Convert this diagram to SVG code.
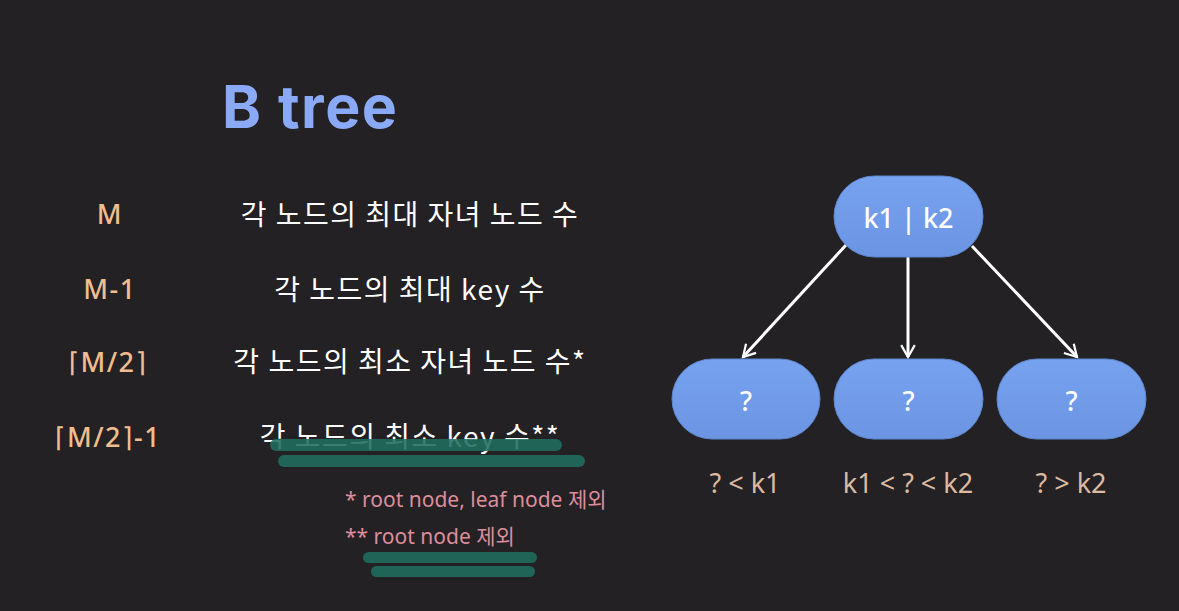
<svg xmlns="http://www.w3.org/2000/svg" width="1179" height="611" viewBox="0 0 1179 611">
  <defs>
    <linearGradient id="nodeFill" x1="0" y1="0" x2="0" y2="1">
      <stop offset="0" stop-color="#77a2ef"/>
      <stop offset="1" stop-color="#6b95e2"/>
    </linearGradient>
    <marker id="arrow" viewBox="0 0 20 20" refX="17" refY="10" markerWidth="17" markerHeight="17" markerUnits="userSpaceOnUse" orient="auto">
      <path d="M3,2 L17,10 L3,18" fill="none" stroke="#ffffff" stroke-width="2.6" stroke-linejoin="miter"/>
    </marker>
    <style>
      .title { font-family: "Inter", "Liberation Sans", sans-serif; font-weight: 700; font-size: 59px; letter-spacing: 1.5px; fill: #8aa9f6; }
      .sym { font-family: "Noto Sans", "DejaVu Sans", sans-serif; font-size: 27px; font-weight: 500; letter-spacing: 1.5px; fill: #f0bd8e; text-anchor: middle; }
      .desc { font-family: "Noto Sans CJK KR", "Noto Sans", sans-serif; font-size: 28px; font-weight: 400; letter-spacing: 1.5px; fill: #ffffff; text-anchor: middle; }
      .note { font-family: "Noto Sans", "Noto Sans CJK KR", sans-serif; font-size: 21px; fill: #dd8d9c; }
      .mark { fill: #1f6e5e; }
      .node { fill: url(#nodeFill); stroke: #5f86cc; stroke-width: 1; }
      .nlabel { font-family: "Noto Sans", "DejaVu Sans", sans-serif; font-size: 27px; font-weight: 500; fill: #ffffff; text-anchor: middle; }
      .range { font-family: "Noto Sans", "DejaVu Sans", sans-serif; font-size: 27px; fill: #dcbba0; text-anchor: middle; }
      .edge { stroke: #ffffff; stroke-width: 3; fill: none; }
    </style>
  </defs>

  <rect x="0" y="0" width="1179" height="611" fill="#232124"/>

  <text class="title" x="222" y="128">B tree</text>

  <!-- symbols -->
  <g id="symbols">
    <text class="sym" x="110" y="224">M</text>
    <text class="sym" x="110" y="299">M-1</text>
    <text class="sym" x="108" y="372">⌈M/2⌉</text>
    <text class="sym" x="108" y="447">⌈M/2⌉-1</text>
  </g>

  <!-- descriptions -->
  <g id="descriptions">
    <text class="desc" x="410" y="225">각 노드의 최대 자녀 노드 수</text>
    <text class="desc" x="410" y="300">각 노드의 최대 key 수</text>
    <text class="desc" x="410" y="372">각 노드의 최소 자녀 노드 수*</text>
    <text class="desc" x="410" y="447">각 노드의 최소 key 수**</text>
  </g>

  <!-- highlight strokes -->
  <g id="highlights" opacity="0.88">
    <rect class="mark" x="270" y="439" width="292" height="12" rx="6"/>
    <rect class="mark" x="278" y="455" width="307" height="12" rx="6"/>
    <rect class="mark" x="363" y="552" width="174" height="11" rx="5.5"/>
    <rect class="mark" x="371" y="566" width="164" height="11" rx="5.5"/>
  </g>

  <!-- footnotes -->
  <g id="notes">
    <text class="note" x="345" y="507">* root node, leaf node 제외</text>
    <text class="note" x="345" y="544">** root node 제외</text>
  </g>

  <!-- connectors -->
  <g id="connectors">
    <line class="edge" x1="846" y1="245" x2="743" y2="357" marker-end="url(#arrow)"/>
    <line class="edge" x1="908" y1="257" x2="908" y2="357" marker-end="url(#arrow)"/>
    <line class="edge" x1="972" y1="246" x2="1077" y2="357" marker-end="url(#arrow)"/>
  </g>

  <g id="root">
    <rect class="node" x="834" y="176" width="149" height="81" rx="40.5"/>
    <text class="nlabel" x="908.5" y="228">k1 | k2</text>
  </g>
  <g id="child-left">
    <rect class="node" x="672" y="359" width="148" height="80" rx="40"/>
    <text class="nlabel" x="746" y="411">?</text>
  </g>
  <g id="child-middle">
    <rect class="node" x="834" y="359" width="149" height="80" rx="40"/>
    <text class="nlabel" x="908.5" y="411">?</text>
  </g>
  <g id="child-right">
    <rect class="node" x="997" y="359" width="149" height="80" rx="40"/>
    <text class="nlabel" x="1071.5" y="411">?</text>
  </g>

  <!-- key ranges -->
  <g id="ranges">
    <text class="range" x="745" y="493">? &lt; k1</text>
    <text class="range" x="908" y="493">k1 &lt; ? &lt; k2</text>
    <text class="range" x="1071" y="493">? &gt; k2</text>
  </g>
</svg>
